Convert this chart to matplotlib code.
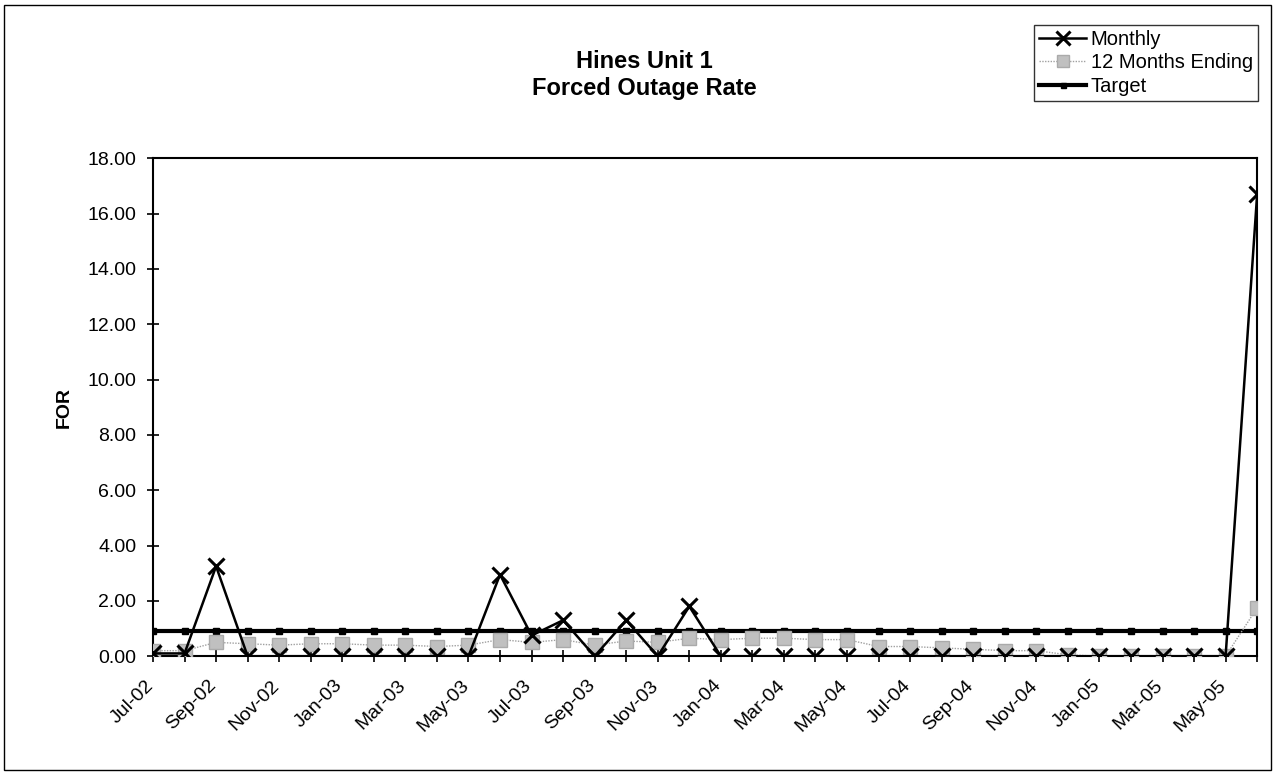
import matplotlib
matplotlib.use("Agg")
import matplotlib.pyplot as plt
from matplotlib.patches import Rectangle
from matplotlib.ticker import FixedLocator, FormatStrFormatter
from matplotlib.transforms import ScaledTranslation

plt.rcParams['font.family'] = ['Liberation Sans', 'DejaVu Sans']

months = ['Jul-02', 'Aug-02', 'Sep-02', 'Oct-02', 'Nov-02', 'Dec-02',
          'Jan-03', 'Feb-03', 'Mar-03', 'Apr-03', 'May-03', 'Jun-03',
          'Jul-03', 'Aug-03', 'Sep-03', 'Oct-03', 'Nov-03', 'Dec-03',
          'Jan-04', 'Feb-04', 'Mar-04', 'Apr-04', 'May-04', 'Jun-04',
          'Jul-04', 'Aug-04', 'Sep-04', 'Oct-04', 'Nov-04', 'Dec-04',
          'Jan-05', 'Feb-05', 'Mar-05', 'Apr-05', 'May-05', 'Jun-05']

monthly = [0.1, 0.1, 3.25, 0, 0, 0,
           0, 0, 0, 0, 0, 2.95,
           0.75, 1.3, 0, 1.3, 0, 1.8,
           0, 0, 0, 0, 0, 0,
           0, 0, 0, 0, 0, 0,
           0, 0, 0, 0, 0, 16.7]

twelve_month = [0.2, 0.2, 0.5, 0.45, 0.4, 0.45,
                0.45, 0.4, 0.4, 0.35, 0.4, 0.6,
                0.5, 0.6, 0.4, 0.55, 0.5, 0.65,
                0.6, 0.65, 0.65, 0.6, 0.6, 0.35,
                0.35, 0.3, 0.25, 0.2, 0.2, 0.05,
                0.0, 0.0, 0.0, 0.0, 0.0, 1.75]

target = [0.9] * 36

fig = plt.figure(figsize=(12.75, 7.72), dpi=100)
ax = fig.add_axes([0.12, 0.150, 0.866, 0.645])

x = list(range(len(months)))
ax.plot(x, target, color='black', lw=3, marker='s', markersize=4.5,
        label='Target', zorder=2)
ax.plot(x, twelve_month, color='#a0a0a0', lw=1, ls=(0, (1, 1)), marker='s',
        markersize=10, markerfacecolor='#c0c0c0', markeredgecolor='#aaaaaa',
        label='12 Months Ending', zorder=3)
ax.plot(x, monthly, color='black', lw=1.8, marker='x', markersize=12,
        markeredgewidth=2.2, label='Monthly', zorder=4)

ax.set_xlim(0, len(months) - 1)
ax.set_ylim(0, 18)
ax.yaxis.set_major_locator(FixedLocator([i * 2 for i in range(10)]))
ax.yaxis.set_major_formatter(FormatStrFormatter('%.2f'))
ax.set_xticks(x[::2])
ax.set_xticklabels(months[::2], rotation=45, ha='right', rotation_mode='anchor')
ax.set_xticks(x, minor=True)
ax.tick_params(axis='both', which='both', direction='inout', length=8, width=1.2,
               labelsize=14)
ax.tick_params(axis='x', which='major', pad=8)
ax.tick_params(axis='y', which='major', pad=8)
offset = ScaledTranslation(-8 / 100, -4 / 100, fig.dpi_scale_trans)
for lab in ax.get_xticklabels():
    lab.set_transform(lab.get_transform() + offset)
for s in ax.spines.values():
    s.set_linewidth(1.5)

ax.set_ylabel('FOR', fontsize=14, fontweight='bold')
ax.yaxis.set_label_coords(-0.0725, 0.5)

fig.text(0.505, 1 - 62 / 772, 'Hines Unit 1', ha='center', va='center',
         fontsize=17, fontweight='bold')
fig.text(0.505, 1 - 88 / 772, 'Forced Outage Rate', ha='center', va='center',
         fontsize=17, fontweight='bold')

handles, labels = ax.get_legend_handles_labels()
order = [2, 1, 0]
leg = fig.legend([handles[i] for i in order], [labels[i] for i in order],
                 loc='upper right', bbox_to_anchor=(1258 / 1275, 1 - 25 / 772),
                 borderaxespad=0, fontsize=14.5,
                 frameon=True, fancybox=False, edgecolor='black', handlelength=2.3,
                 handletextpad=0.25, borderpad=0.25, labelspacing=0.22,
                 markerscale=0.8)
leg.get_frame().set_linewidth(1.0)

fig.patches.append(Rectangle((0.003, 0.003), 0.994, 0.991, transform=fig.transFigure,
                             fill=False, edgecolor='black', lw=1))

fig.savefig('out.png', dpi=100)
